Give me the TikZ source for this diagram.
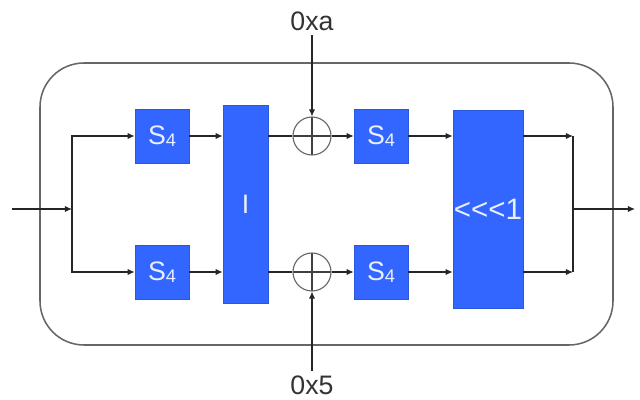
\documentclass[tikz,border=0pt]{standalone}
\usepackage{fontspec}
\setmainfont{Liberation Sans}
\usetikzlibrary{arrows.meta}
\definecolor{boxblue}{RGB}{51,102,255}
\definecolor{boxtext}{RGB}{232,240,255}
\newcommand\sfour{S\raisebox{-1.5pt}{\fontsize{13}{13}\selectfont 4}}
\begin{document}
\begin{tikzpicture}[
                x=0.025cm, y=-0.025cm,
                wire/.style={draw=black!85, line width=0.9pt},
                flow/.style={wire, -{Latex[length=5pt,width=4.5pt]}},
                sbox/.style={fill=boxblue, draw=boxblue!85!black, minimum size=1.35cm,
                    inner sep=0pt, text=boxtext, font=\fontsize{19}{22}\selectfont},
                tallbox/.style={sbox, minimum width=#1, minimum height=4.95cm},
                xor/.style={circle, draw=black!60, line width=0.8pt, minimum size=0.95cm,
                    inner sep=0pt, path picture={
                        \draw[black!75, line width=0.8pt]
                            (path picture bounding box.north) -- (path picture bounding box.south)
                            (path picture bounding box.west) -- (path picture bounding box.east);}},
                frame/.style={draw=black!60, line width=1.1pt, rounded corners=1.1cm},
                keytext/.style={font=\fontsize{19}{22}\selectfont, text=black!80}]
        \useasboundingbox (0,0) rectangle (640,400);

        % Outer frame of the round.
        \draw[frame] (40,63) rectangle (613,345);

        % Split and join points of the two lanes.
        \coordinate (in) at (12,209);
        \coordinate (split) at (72,209);
        \coordinate (join) at (573,209);
        \coordinate (out) at (635,209);

        % Both lanes: S-box, key XOR, S-box.
        \foreach \r/\y in {a/136,b/272} {
                \node[sbox] (s1\r) at (162,\y) {\sfour};
                \node[xor] (x\r) at (312,\y) {};
                \node[sbox] (s2\r) at (381,\y) {\sfour};
        }
        \node[tallbox=1.125cm] (perm) at (245.5,204) {I};
        \node[tallbox=1.75cm, font=\fontsize{21}{24}\selectfont] (rot) at (488,209) {<{}<{}<1};

        % Constants fed into the XORs.
        \node[keytext] (ka) at (312,21) {0xa};
        \node[keytext] (kb) at (312,385) {0x5};

        % Wiring.
        \draw[flow] (in) -- (split);
        \foreach \r in {a,b} {
                \draw[flow] (split) |- (s1\r);
                \draw[flow] (s1\r) -- (s1\r -| perm.west);
                \draw[wire] (x\r -| perm.east) -- (x\r);
                \draw[flow] (x\r) -- (s2\r);
                \draw[flow] (s2\r) -- (s2\r -| rot.west);
                \draw[flow] (s2\r -| rot.east) -- (s2\r -| join);
        }
        \draw[wire] (s2a -| join) -- (s2b -| join);
        \draw[flow] (join) -- (out);
        \draw[flow] (ka) -- (xa);
        \draw[flow] (kb) -- (xb);
\end{tikzpicture}
\end{document}
